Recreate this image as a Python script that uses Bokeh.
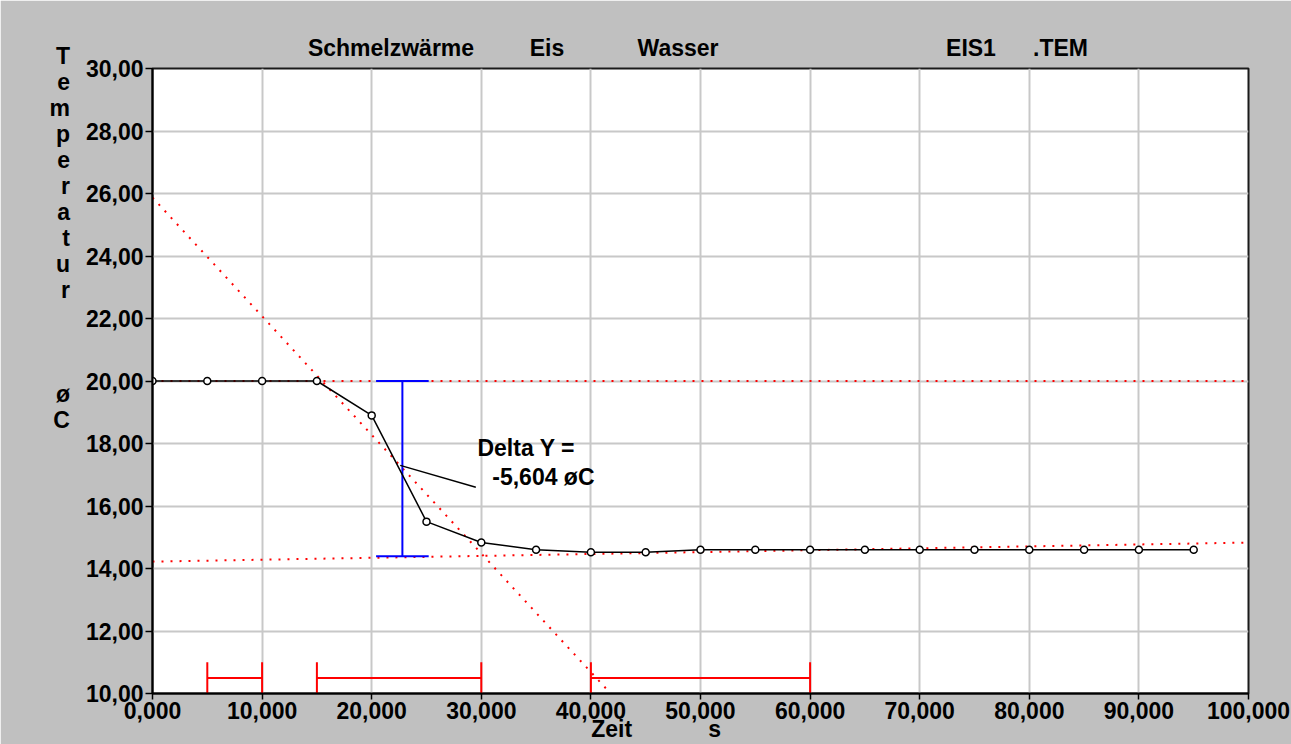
from bokeh.plotting import figure
from bokeh.models import FixedTicker, Range1d, ColumnDataSource, LinearAxis
from bokeh.core.properties import value
from bokeh.embed import file_html
from bokeh.resources import INLINE

# ---------------- data ----------------
time_s = [0, 5, 10, 15, 20, 25, 30, 35, 40, 45, 50, 55, 60, 65, 70, 75, 80, 85, 90, 95]
temp_c = [20.0, 20.0, 20.0, 20.0, 18.9, 15.5, 14.83, 14.6, 14.52, 14.52,
          14.6, 14.6, 14.6, 14.6, 14.6, 14.6, 14.6, 14.6, 14.6, 14.6]

x_ticks = [0, 10, 20, 30, 40, 50, 60, 70, 80, 90, 100]
x_labels = ["0,000", "10,000", "20,000", "30,000", "40,000", "50,000",
            "60,000", "70,000", "80,000", "90,000", "100,000"]
y_ticks = [10, 12, 14, 16, 18, 20, 22, 24, 26, 28, 30]
y_labels = ["10,00", "12,00", "14,00", "16,00", "18,00", "20,00",
            "22,00", "24,00", "26,00", "28,00", "30,00"]

# fitted (red dotted) lines
fit_before_x = [0, 100]
fit_before_y = [20.0, 20.0]
fit_after_x = [0, 100]
fit_after_y = [14.22, 14.83]
fit_mid_x = [0, 41.8]
fit_mid_y = [25.87, 10.0]

# evaluation ranges (red bars)
range_start = [5, 15, 40]
range_end = [10, 30, 60]
range_level = 10.5
range_low = 10.0
range_high = 11.0

# delta Y measurement (blue)
delta_x = 22.8
delta_top = 20.0
delta_value = -5.604
delta_bottom = delta_top + delta_value
cap_half = 2.4

# pointer line to annotation
pointer_x = [22.6, 29.5]
pointer_y = [17.3, 16.6]

# header texts and their centre positions (in x data units)
title_parts = ["Schmelzwärme", "Eis", "Wasser", "EIS1", ".TEM"]
title_x = [21.76, 35.99, 47.95, 74.68, 82.85]
x_unit_parts = ["Zeit", "s"]
x_unit_x = [41.9, 51.3]
y_title_letters = list("Temperatur") + ["\u00a0"] * 3 + ["ø", "C"] + ["\u00a0"] * 11

FONT = "Liberation Sans"
FS = "23px"

# ---------------- figure ----------------
p = figure(width=1291, height=744, output_backend="svg", toolbar_location=None,
           x_range=Range1d(0, 100), y_range=Range1d(10, 30))
p.title.visible = False
p.min_border_left = 152
p.min_border_right = 43
p.min_border_top = 68
p.min_border_bottom = 51
p.border_fill_color = "#c0c0c0"
p.background_fill_color = "white"
p.outline_line_color = "#1a1a1a"
p.outline_line_width = 2


def style_axis(ax, ticks, labels):
    ax.ticker = FixedTicker(ticks=ticks)
    ax.major_label_overrides = {t: l for t, l in zip(ticks, labels)}
    ax.minor_tick_line_color = None
    ax.major_tick_in = 0
    ax.major_tick_out = 6
    ax.major_tick_line_color = "black"
    ax.major_tick_line_width = 1.5
    ax.axis_line_color = "black"
    ax.axis_line_width = 2
    ax.major_label_text_font = FONT
    ax.major_label_text_font_size = FS
    ax.major_label_text_font_style = "bold"
    ax.major_label_text_color = "black"


style_axis(p.xaxis[0], x_ticks, x_labels)
style_axis(p.yaxis[0], y_ticks, y_labels)
p.yaxis[0].major_tick_out = 7
p.xaxis[0].major_label_standoff = 2
p.yaxis[0].major_label_standoff = 2

# vertical stacked y title
ya = p.yaxis[0]
ya.axis_label = "\n".join(y_title_letters)
ya.axis_label_orientation = "horizontal"
ya.axis_label_text_font = FONT
ya.axis_label_text_font_size = FS
ya.axis_label_text_font_style = "bold"
ya.axis_label_text_color = "black"
ya.axis_label_text_align = "center"
ya.axis_label_text_line_height = 1.0
ya.axis_label_standoff = 13


def text_axis(ticks, labels, place, standoff):
    ax = LinearAxis(ticker=FixedTicker(ticks=ticks),
                    major_label_overrides={t: l for t, l in zip(ticks, labels)},
                    axis_line_color=None, major_tick_line_color=None,
                    minor_tick_line_color=None, major_tick_out=0, major_tick_in=0,
                    major_label_standoff=standoff,
                    major_label_text_font=FONT, major_label_text_font_size=FS,
                    major_label_text_font_style="bold", major_label_text_color="black")
    p.add_layout(ax, place)
    return ax


text_axis(title_x, title_parts, "above", 8)
text_axis(x_unit_x, x_unit_parts, "below", -6)

p.xgrid.ticker = FixedTicker(ticks=x_ticks)
p.ygrid.ticker = FixedTicker(ticks=y_ticks)
p.grid.grid_line_color = "#c8c8c8"
p.grid.grid_line_width = 2

# red dotted fit lines
for xs, ys in ((fit_before_x, fit_before_y), (fit_after_x, fit_after_y), (fit_mid_x, fit_mid_y)):
    p.line(xs, ys, line_color="red", line_width=2, line_dash="2 7")

# red range bars
rsrc = ColumnDataSource(dict(x0=range_start, x1=range_end,
                             lv=[range_level] * 3, lo=[range_low] * 3, hi=[range_high] * 3))
p.segment(x0="x0", y0="lv", x1="x1", y1="lv", source=rsrc, line_color="red", line_width=2)
p.segment(x0="x0", y0="lo", x1="x0", y1="hi", source=rsrc, line_color="red", line_width=2)
p.segment(x0="x1", y0="lo", x1="x1", y1="hi", source=rsrc, line_color="red", line_width=2)

# blue delta measurement
p.segment(x0=[delta_x], y0=[delta_bottom], x1=[delta_x], y1=[delta_top], line_color="blue", line_width=2)
p.segment(x0=[delta_x - cap_half] * 2, y0=[delta_top, delta_bottom],
          x1=[delta_x + cap_half] * 2, y1=[delta_top, delta_bottom], line_color="blue", line_width=2)

# data
p.line(time_s, temp_c, line_color="black", line_width=1.5)
p.scatter(time_s, temp_c, marker="circle", size=7, fill_color="white",
          line_color="black", line_width=1.5)

# pointer + annotation text
p.line(pointer_x, pointer_y, line_color="black", line_width=1.5)
delta_text = ["Delta Y =", f"{delta_value:.3f}".replace(".", ",") + " øC"]
p.text(x=[29.65, 31.0], y=[17.87, 16.94], text=delta_text,
       text_font=value(FONT), text_font_size=value(FS), text_font_style="bold",
       text_color="black", text_baseline="middle", text_align="left")

open("out.html", "w").write(file_html(p, INLINE))
